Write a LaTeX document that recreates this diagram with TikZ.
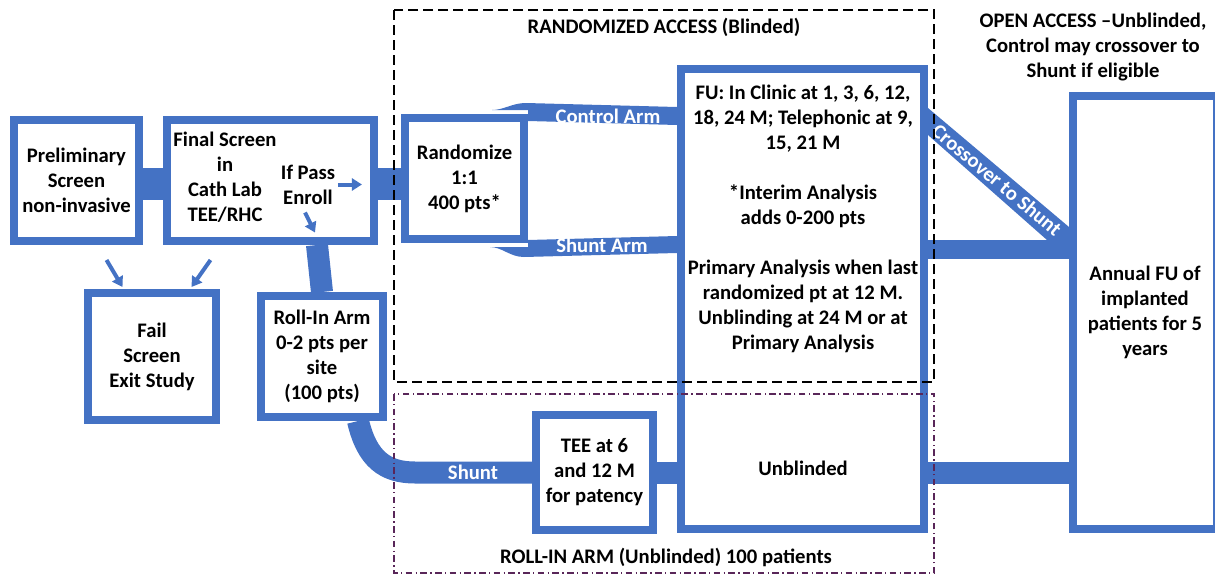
\documentclass[tikz,border=0pt]{standalone}
\usepackage{fontspec}
\setmainfont{Carlito}
\usetikzlibrary{arrows.meta,calc,positioning}
\definecolor{boxblue}{RGB}{68,114,196}
\definecolor{rollpurple}{RGB}{89,38,89}
\newcommand\fsz{\fontsize{15.5pt}{18.75pt}\selectfont}
\tikzset{
  stage/.style={draw=boxblue, line width=6pt, fill=white, inner sep=0pt, align=center, font=\bfseries\fsz},
  txt/.style={font=\bfseries\fsz, align=center, inner sep=0pt},
  armtxt/.style={font=\bfseries\fsz, text=white, inner sep=0pt},
  flow/.style={draw=boxblue, line width=#1},
  flow/.default=24pt,
  hint/.style={draw=boxblue, line width=3pt, -{Triangle[length=7.5pt,width=9pt]}},
  region/.style={draw=black, line width=1.1pt, dash pattern=on 7.5pt off 3.75pt},
  rollregion/.style={draw=rollpurple, line width=1.1pt, dash pattern=on 5pt off 2.5pt on 1pt off 2.5pt}
}
\begin{document}
\begin{tikzpicture}[x=0.75pt, y=-0.75pt]
	\useasboundingbox (0,0) rectangle (1215,575);
	
	% Screening
	\node[stage, minimum width=93.75pt, minimum height=90.75pt] (prelim) at (76.5,180.5) {Preliminary\\Screen\\non-invasive};
	\node[stage, minimum width=155.25pt, minimum height=90.75pt] (final) at (270.5,180.5) {};
	\node[txt] (finaltxt) at (225,177.5) {Final Screen\\in\\Cath Lab\\TEE/RHC};
	\node[txt] (passtxt) at (308,184.5) {If Pass\\Enroll};
	\node[stage, minimum width=96pt, minimum height=95.25pt] (fail) at (152,356.5) {Fail\\Screen\\Exit Study};
	\node[stage, minimum width=91.5pt, minimum height=90.75pt] (rollin) at (322,356.5) {Roll-In Arm\\0-2 pts per\\site\\(100 pts)};
	
	% Randomized and roll-in arms
	\node[stage, minimum width=89.25pt, minimum height=90.75pt] (rand) at (464.5,178.5) {Randomize\\1:1\\400 pts*};
	\node[stage, minimum width=182.25pt, minimum height=345pt] (fu) at (802.5,299) {};
	\node[txt] (futxt) at (803,219) {FU: In Clinic at 1, 3, 6, 12,\\18, 24 M; Telephonic at 9,\\15, 21 M\\[18.75pt]*Interim Analysis\\adds 0-200 pts\\[18.75pt]Primary Analysis when last\\randomized pt at 12 M.\\Unblinding at 24 M or at\\Primary Analysis};
	\node[txt] (unbl) at (803,468) {Unblinded};
	\node[stage, minimum width=87.75pt, minimum height=86.25pt] (tee) at (594.5,472.5) {TEE at 6\\and 12 M\\for patency};
	
	% Open access
	\node[stage, minimum width=108pt, minimum height=324.75pt] (annual) at (1145,312.5) {Annual FU of\\implanted\\patients for 5\\years};
	
	% Connectors
	\draw[flow] ([yshift=-2.6pt]prelim.east) -- ([yshift=-2.6pt]final.west);
	\draw[flow] ([yshift=-2.6pt]final.east) -- ([yshift=-2.6pt]final.east -| rand.west);
	\draw[flow=16.5pt] ([xshift=-3.75pt]rollin.north |- final.south) -- (rollin.north);
	\draw[flow=16.5pt] ([xshift=27pt]rollin.south) .. controls +(9,38) and +(-30,0) .. (415,472.5) -- (tee.west);
	\draw[flow=16.5pt] (tee.east) -- (tee.east -| fu.west);
	\fill[boxblue] ($(rand.north east)+(-36,-4)$) .. controls +(12,0) and +(-14,0) .. ($(rand.north east)+(-2,-11)$)
		-- (fu.west |- 0,107) -- (fu.west |- 0,125) -- ($(rand.north east)+(0,7)$) -- ($(rand.north east)+(0,-4)$) -- cycle;
	\fill[boxblue] ($(rand.south east)+(-38,4)$) .. controls +(12,0) and +(-14,0) .. ($(rand.south east)+(-4,14)$)
		-- (fu.west |- 0,253) -- (fu.west |- 0,236) -- ($(rand.south east)+(0,-3)$) -- ($(rand.south east)+(0,4)$) -- cycle;
	\draw[flow=14.25pt] (fu.east |- 0,249.5) -- (annual.west |- 0,249.5);
	\draw[flow=16.5pt] (fu.east |- tee.east) -- (annual.west |- tee.east);
	\fill[boxblue] (fu.east |- 0,108) -- (annual.west |- 0,227) -- (annual.west |- 0,240) -- (1047,240) -- (fu.east |- 0,135) -- cycle;
	
	% Arm labels
	\node[armtxt] (ctrltxt) at (608,116) {Control Arm};
	\node[armtxt] (shtxt) at (602,245) {Shunt Arm};
	\node[armtxt] (shunttxt) at (473,472) {Shunt};
	\node[armtxt, rotate=-40] (crosstxt) at (997,180) {Crossover to Shunt};
	
	% Small arrows
	\draw[hint] ([shift={(30,15)}]prelim.south) -- ++(16,27);
	\draw[hint] ([shift={(-60,15)}]final.south) -- ++(-19,27);
	\draw[hint] ([xshift=2pt]passtxt.east) -- ++(24,0);
	\draw[hint] ([shift={(-3,8)}]passtxt.south) -- ++(10,20);
	
	% Regions
	\draw[region] (394,10) rectangle (934,382);
	\draw[rollregion] (394,394) rectangle (934,573);
	\node[txt] (randtitle) at (664,27) {RANDOMIZED ACCESS (Blinded)};
	\node[txt] (rolltitle) at (666,557) {ROLL-IN ARM (Unblinded) 100 patients};
	\node[txt] (opentitle) at (1093,47) {OPEN ACCESS –Unblinded,\\Control may crossover to\\Shunt if eligible};
\end{tikzpicture}
\end{document}
